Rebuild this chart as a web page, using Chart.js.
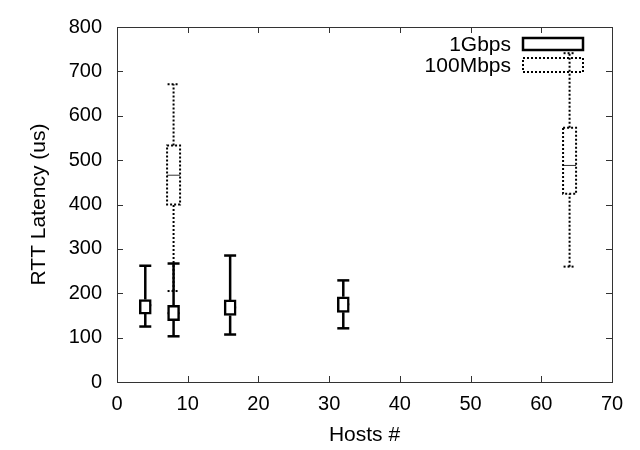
<!DOCTYPE html>
<html><head><meta charset="utf-8">
<script src="https://cdn.jsdelivr.net/npm/chart.js@4.4.1/dist/chart.umd.min.js"></script>
<style>html,body{margin:0;padding:0;background:#fff}#wrap{width:640px;height:450px}</style>
</head><body><div id="wrap"><canvas id="c" width="640" height="450"></canvas></div>
<script>
// ---- data ----
const seriesNames = ['1Gbps', '100Mbps'];
const hosts1G = [4, 8, 16, 32];
const min1G = [125, 103, 107, 121];
const q1_1G = [153, 138, 150, 157];
const med1G = [173, 155, 168, 175];
const q3_1G = [186, 173, 185, 192];
const max1G = [262, 267, 285, 229];
const hosts100M = [8, 64];
const min100M = [205, 260];
const q1_100M = [400, 424];
const med100M = [466, 488];
const q3_100M = [533, 573];
const max100M = [671, 741];
const xTickValues = [0, 10, 20, 30, 40, 50, 60, 70];
const yTickValues = [0, 100, 200, 300, 400, 500, 600, 700, 800];
const xTitle = 'Hosts #';
const yTitle = 'RTT Latency (us)';

const FONT = "'Liberation Sans', Arial, Helvetica, sans-serif";

function whiskerPoints(xs, mins, q1s, q3s, maxs) {
  const pts = [];
  xs.forEach((x, i) => {
    pts.push({x, y: mins[i]}, {x, y: q1s[i]}, {x, y: null});
    pts.push({x, y: q3s[i]}, {x, y: maxs[i]}, {x, y: null});
  });
  return pts;
}
const boxData = (xs, q1s, q3s) => xs.map((x, i) => ({x, y: [q1s[i], q3s[i]]}));
const ptData = (xs, vals) => xs.map((x, i) => ({x, y: vals[i]}));
const capData = (xs, mins, maxs) => xs.flatMap((x, i) => [{x, y: mins[i]}, {x, y: maxs[i]}]);

const datasets = [
  // 1Gbps
  {type: 'line', data: whiskerPoints(hosts1G, min1G, q1_1G, q3_1G, max1G), borderColor: '#000', borderWidth: 2.5, pointRadius: 0, spanGaps: false, fill: false},
  {type: 'scatter', data: capData(hosts1G, min1G, max1G), pointStyle: 'line', pointRadius: 6, pointHoverRadius: 6, borderColor: '#000', pointBorderWidth: 2.5, showLine: false},
  {type: 'bar', data: boxData(hosts1G, q1_1G, q3_1G), backgroundColor: '#fff', borderColor: '#000', borderWidth: 2.5, barThickness: 12, grouped: false, borderSkipped: false},
  {type: 'scatter', data: ptData(hosts1G, med1G), pointStyle: 'line', pointRadius: 6, pointHoverRadius: 6, borderColor: '#000', pointBorderWidth: 2, showLine: false},
  // 100Mbps
  {type: 'line', data: whiskerPoints(hosts100M, min100M, q1_100M, q3_100M, max100M), borderColor: '#000', borderWidth: 2, borderDash: [2, 2], pointRadius: 0, spanGaps: false, fill: false},
  {type: 'scatter', data: capData(hosts100M, min100M, max100M), pointStyle: 'line', pointRadius: 6, pointHoverRadius: 6, borderColor: 'rgba(0,0,0,0)', pointBorderWidth: 2, showLine: false, dashed: true},
  {type: 'bar', data: boxData(hosts100M, q1_100M, q3_100M), backgroundColor: 'rgba(0,0,0,0)', borderColor: 'rgba(0,0,0,0)', borderWidth: 0, barThickness: 13, grouped: false, dashed: true},
  {type: 'scatter', data: ptData(hosts100M, med100M), pointStyle: 'line', pointRadius: 6.5, pointHoverRadius: 6.5, borderColor: '#333', pointBorderWidth: 1, showLine: false}
];

const dashedPlugin = {
  id: 'dashed',
  afterDatasetsDraw(chart) {
    const ctx = chart.ctx;
    ctx.save();
    ctx.strokeStyle = '#000';
    ctx.lineWidth = 2;
    ctx.setLineDash([2, 2]);
    chart.data.datasets.forEach((ds, i) => {
      if (!ds.dashed) return;
      const meta = chart.getDatasetMeta(i);
      meta.data.forEach(el => {
        if (ds.type === 'bar') {
          const p = el.getProps(['x', 'y', 'base', 'width'], true);
          const top = Math.min(p.y, p.base), h = Math.abs(p.base - p.y);
          ctx.strokeRect(p.x - p.width / 2, top, p.width, h);
        } else {
          const r = ds.pointRadius;
          ctx.beginPath();
          ctx.moveTo(el.x - r, el.y);
          ctx.lineTo(el.x + r, el.y);
          ctx.stroke();
        }
      });
    });
    ctx.restore();
  }
};

const framePlugin = {
  id: 'frame',
  afterDraw(chart) {
    const {ctx, chartArea: a, scales: {x, y}} = chart;
    ctx.save();
    ctx.strokeStyle = '#333';
    ctx.lineWidth = 1;
    ctx.strokeRect(Math.round(a.left) + 0.5, Math.round(a.top) + 0.5, Math.round(a.right - a.left), Math.round(a.bottom - a.top));
    const L = 6;
    ctx.beginPath();
    y.ticks.forEach(t => {
      const py = Math.round(y.getPixelForValue(t.value)) + 0.5;
      ctx.moveTo(a.left, py); ctx.lineTo(a.left + L, py);
      ctx.moveTo(a.right, py); ctx.lineTo(a.right - L, py);
    });
    x.ticks.forEach(t => {
      const px = Math.round(x.getPixelForValue(t.value)) + 0.5;
      ctx.moveTo(px, a.bottom); ctx.lineTo(px, a.bottom - L);
      ctx.moveTo(px, a.top); ctx.lineTo(px, a.top + L);
    });
    ctx.stroke();
    // axis titles
    ctx.fillStyle = '#000';
    ctx.font = '21px ' + FONT;
    ctx.textAlign = 'center';
    ctx.textBaseline = 'middle';
    ctx.fillText(xTitle, (a.left + a.right) / 2, 435);
    ctx.translate(39, (a.top + a.bottom) / 2);
    ctx.rotate(-Math.PI / 2);
    ctx.fillText(yTitle, 0, 0);
    ctx.restore();

    // legend
    ctx.save();
    const sx = a.right - 89, sw = 60;
    const rows = [a.top + 17, a.top + 38];
    ctx.font = '21px ' + FONT;
    ctx.fillStyle = '#000';
    ctx.textAlign = 'right';
    ctx.textBaseline = 'middle';
    seriesNames.forEach((name, i) => {
      ctx.fillText(name, sx - 12, rows[i] + 1);
      ctx.strokeStyle = '#000';
      if (i === 0) {
        ctx.lineWidth = 2.5; ctx.setLineDash([]);
        ctx.strokeRect(sx, rows[i] - 6, sw, 12);
      } else {
        ctx.lineWidth = 2; ctx.setLineDash([2, 2]);
        ctx.strokeRect(sx, rows[i] - 7, sw, 14);
      }
    });
    ctx.restore();
  }
};

new Chart(document.getElementById('c'), {
  type: 'bar',
  data: {datasets},
  plugins: [dashedPlugin, framePlugin],
  options: {
    responsive: false,
    animation: false,
    devicePixelRatio: 1,
    events: [],
    layout: {padding: {top: 16, right: 28, left: 0, bottom: 0}},
    plugins: {legend: {display: false}, tooltip: {enabled: false}},
    scales: {
      x: {
        type: 'linear', min: 0, max: 70, offset: false,
        afterBuildTicks: s => { s.ticks = xTickValues.map(v => ({value: v})); },
        afterFit: s => { s.height = 68; },
        ticks: {color: '#000', font: {family: FONT, size: 20}, padding: 10, maxRotation: 0},
        grid: {drawOnChartArea: false, drawTicks: false, offset: false},
        border: {display: false},
        title: {display: false}
      },
      y: {
        type: 'linear', min: 0, max: 800,
        afterBuildTicks: s => { s.ticks = yTickValues.map(v => ({value: v})); },
        afterFit: s => { s.width = 117; },
        ticks: {color: '#000', font: {family: FONT, size: 20}, padding: 15},
        grid: {drawOnChartArea: false, drawTicks: false},
        border: {display: false},
        title: {display: false}
      }
    }
  }
});
</script></body></html>
